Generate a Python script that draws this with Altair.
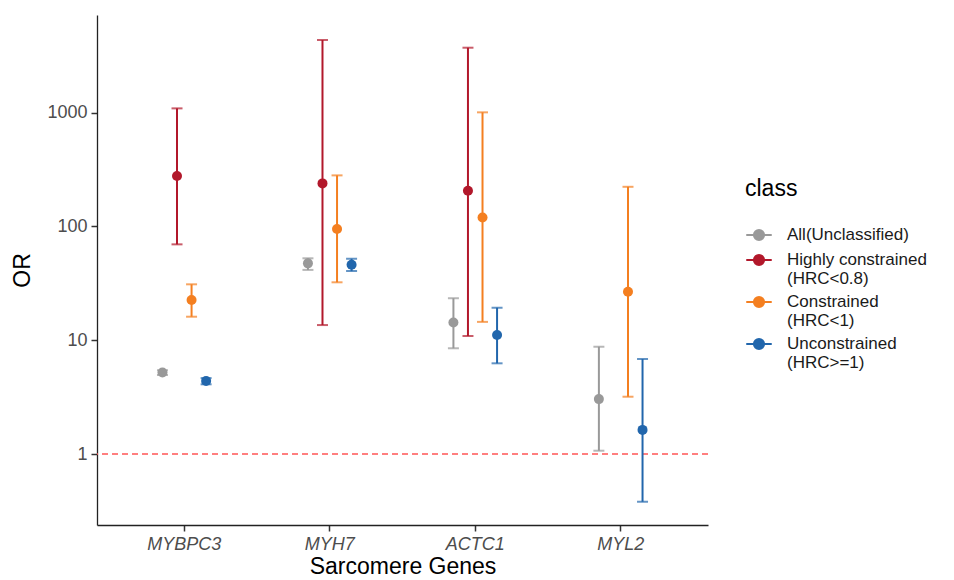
import altair as alt
import pandas as pd

genes = ["MYBPC3", "MYH7", "ACTC1", "MYL2"]
classes = [
    "All(Unclassified)",
    "Highly constrained|(HRC<0.8)",
    "Constrained|(HRC<1)",
    "Unconstrained|(HRC>=1)",
]
palette = ["#999999", "#B2182B", "#F47F20", "#2166AC"]

# Odds ratio with lower / upper 95% CI, per gene (None = no estimate)
or_all = [5.2, 47.4, 14.3, 3.04]
lo_all = [4.95, 41.5, 8.5, 1.07]
hi_all = [5.45, 52.5, 23.4, 8.77]

or_high = [277, 239, 206, None]
lo_high = [69.6, 13.6, 10.9, None]
hi_high = [1090, 4350, 3720, None]

or_con = [22.6, 94.9, 120, 26.7]
lo_con = [16.1, 32.3, 14.5, 3.19]
hi_con = [31.0, 281, 1006, 223]

or_uncon = [4.38, 46.0, 11.1, 1.63]
lo_uncon = [4.1, 40.5, 6.27, 0.381]
hi_uncon = [4.65, 52.0, 19.3, 6.84]

series = [
    (or_all, lo_all, hi_all),
    (or_high, lo_high, hi_high),
    (or_con, lo_con, hi_con),
    (or_uncon, lo_uncon, hi_uncon),
]

rows = []
for cls, (est, lo, hi) in zip(classes, series):
    for g, e, l, h in zip(genes, est, lo, hi):
        if e is None:
            continue
        rows.append({"gene": g, "cls": cls, "OR": e, "lo": l, "hi": h})
df = pd.DataFrame(rows)

ref_df = pd.DataFrame({"OR": [1]})

x_enc = alt.X(
    "gene:N",
    sort=genes,
    scale=alt.Scale(paddingInner=0.6, paddingOuter=0.4),
    axis=alt.Axis(title="Sarcomere Genes", labelAngle=0, ticks=True,
                  tickOpacity=1, tickColor="#333333"),
)
xoff_enc = alt.XOffset(
    "cls:N", sort=classes,
    scale=alt.Scale(domain=classes, paddingInner=0, paddingOuter=0),
)

y_scale = alt.Scale(type="log", domain=[0.238, 7210], nice=False)
y_axis = alt.Axis(title="OR", values=[1, 10, 100, 1000], format="d", ticks=True,
                  tickOpacity=1, tickColor="#333333")

legend = alt.Legend(
    title="class",
    orient="none",
    legendX=648,
    legendY=163,
    labelExpr="split(datum.label, '|')",
    symbolType="M-1,0L1,0M-0.4,0A0.4,0.4,0,1,1,0.4,0A0.4,0.4,0,1,1,-0.4,0Z",
    symbolSize=650,
    symbolStrokeWidth=2,
    symbolOpacity=1,
)
color_enc = alt.Color(
    "cls:N", scale=alt.Scale(domain=classes, range=palette), legend=legend
)

ref_line = alt.Chart(ref_df).mark_rule(
    color="#FF5555", strokeDash=[6, 4], strokeWidth=1.6
).encode(y=alt.Y("OR:Q", scale=y_scale, axis=y_axis))

base = alt.Chart(df).encode(x=x_enc, xOffset=xoff_enc, color=color_enc)

bars = base.mark_rule(strokeWidth=2).encode(
    y=alt.Y("lo:Q", scale=y_scale, axis=y_axis),
    y2="hi:Q",
)
caps_lo = base.mark_tick(size=11, thickness=2).encode(
    y=alt.Y("lo:Q", scale=y_scale, axis=y_axis),
)
caps_hi = base.mark_tick(size=11, thickness=2).encode(
    y=alt.Y("hi:Q", scale=y_scale, axis=y_axis),
)
points = base.mark_point(filled=True, size=100, opacity=1).encode(
    y=alt.Y("OR:Q", scale=y_scale, axis=y_axis),
)

chart = (
    alt.layer(ref_line, bars, caps_lo, caps_hi, points)
    .properties(
        width=611,
        height=510,
        autosize=alt.AutoSizeParams(type="none"),
        padding={"left": 97, "top": 15, "right": 246, "bottom": 55},
    )
    .configure(font="Liberation Sans")
    .configure_view(stroke=None)
    .configure_axis(
        domainColor="#222222",
        domainWidth=1.3,
        ticks=True,
        tickColor="#333333",
        tickWidth=1.5,
        tickSize=6,
        grid=False,
        labelFontSize=18,
        labelColor="#4D4D4D",
        labelPadding=4,
        titleFontSize=23,
        titleFontWeight="normal",
        titleColor="#000000",
    )
    .configure_axisX(labelFontStyle="italic", titlePadding=2)
    .configure_axisY(titlePadding=12)
    .configure_legend(
        titleFontSize=23,
        titleFontWeight="normal",
        titleColor="#000000",
        titlePadding=20,
        labelFontSize=17,
        labelColor="#1A1A1A",
        labelOffset=14,
        rowPadding=1,
    )
)

chart.save("out.html", embed_options={"renderer": "svg", "actions": False})
